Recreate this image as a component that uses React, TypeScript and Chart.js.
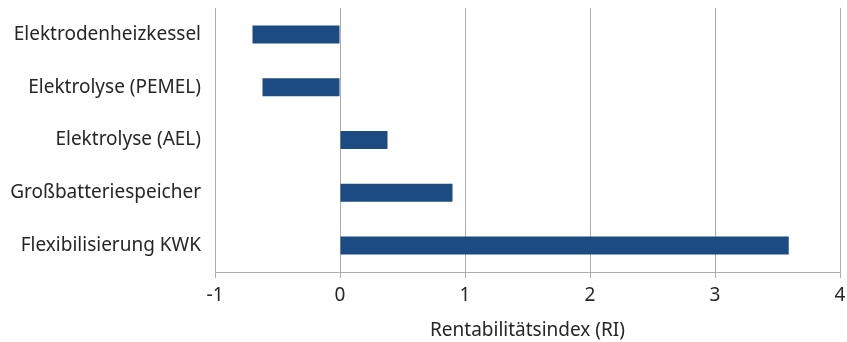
import React, { useEffect, useRef } from "react";
import { Chart, registerables } from "chart.js";

Chart.register(...registerables);

const categories = [
  "Elektrodenheizkessel",
  "Elektrolyse (PEMEL)",
  "Elektrolyse (AEL)",
  "Großbatteriespeicher",
  "Flexibilisierung KWK",
];
const values = [-0.7, -0.62, 0.38, 0.9, 3.59];
const xMin = -1;
const xMax = 4;
const xTitle = "Rentabilitätsindex (RI)";

const FONT = "'Noto Sans', sans-serif";
const TEXT = "#262626";
const GRID = "#acacac";

export default function App() {
  const ref = useRef<HTMLCanvasElement | null>(null);
  useEffect(() => {
    if (!ref.current) return;
    const chart = new Chart(ref.current, {
      type: "bar",
      data: {
        labels: categories,
        datasets: [
          {
            data: values,
            backgroundColor: "#1b4b82",
            categoryPercentage: 1,
            barPercentage: 0.34,
          },
        ],
      },
      options: {
        indexAxis: "y",
        animation: false,
        responsive: false,
        maintainAspectRatio: false,
        layout: { padding: { top: 8, right: 7, left: 0, bottom: 0 } },
        plugins: { legend: { display: false }, tooltip: { enabled: false } },
        scales: {
          x: {
            min: xMin,
            max: xMax,
            ticks: {
              stepSize: 1,
              color: TEXT,
              font: { family: FONT, size: 19 },
              padding: 6,
            },
            grid: { color: GRID, lineWidth: 1, tickLength: 6, drawTicks: true },
            border: { display: true, color: GRID, width: 1 },
            title: {
              display: true,
              text: xTitle,
              color: TEXT,
              font: { family: FONT, size: 19 },
              padding: { top: 6, bottom: 0 },
            },
            afterFit: (s: any) => {
              s.height = 70;
              s.paddingLeft = 0;
              s.paddingRight = 0;
            },
          },
          y: {
            ticks: {
              color: TEXT,
              font: { family: FONT, size: 19 },
              padding: 14,
            },
            grid: { display: false, drawTicks: false },
            border: { display: false },
            afterFit: (s: any) => {
              s.width = 215;
              s.paddingTop = 0;
              s.paddingBottom = 0;
            },
          },
        },
      },
    });
    return () => chart.destroy();
  }, []);
  return (
    <div style={{ position: "fixed", left: 0, top: 0, width: 847, height: 342, background: "#fff" }}>
      <canvas ref={ref} width={847} height={342} style={{ width: 847, height: 342 }} />
    </div>
  );
}
